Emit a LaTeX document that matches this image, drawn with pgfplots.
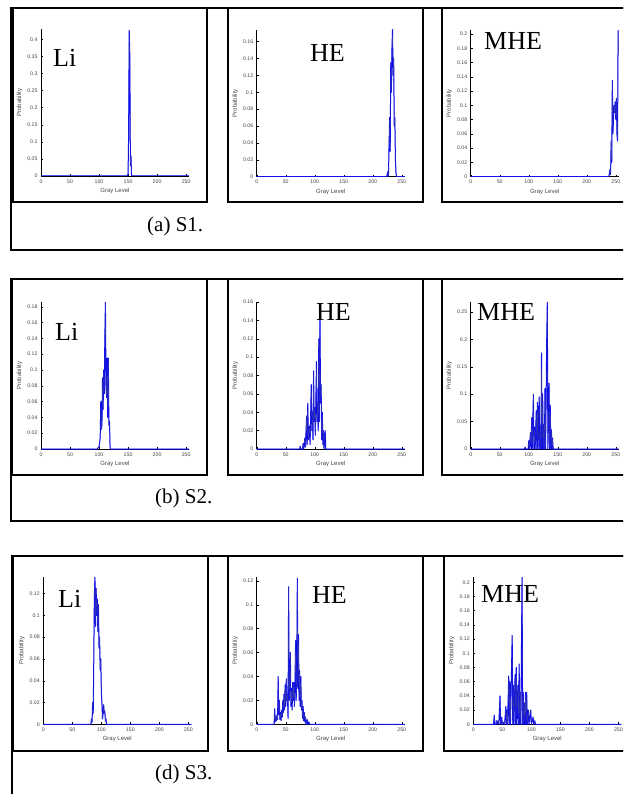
\documentclass[border=0pt]{standalone}
\usepackage{fontspec}
\setmainfont{Liberation Serif}
\newfontfamily\sansf{Liberation Sans}
\usepackage{pgfplots}
\pgfplotsset{compat=1.18}
\definecolor{histlight}{RGB}{155,155,230}
\definecolor{histdark}{RGB}{55,55,175}
\definecolor{ticktxt}{RGB}{70,70,70}
\newcommand\tickf{\sansf\fontsize{5.2}{6}\selectfont}
\newcommand\labf{\sansf\fontsize{6}{7}\selectfont}
\newcommand\bigf{\fontsize{26}{30}\selectfont}
\newcommand\capf{\fontsize{21}{24}\selectfont}
\pgfplotsset{
  hist/.style={
    scale only axis, width=148pt, height=147pt,
    anchor=south west,
    axis x line*=bottom, axis y line*=left,
    axis line style={black, line width=0.5pt},
    xmin=0, xmax=255, ymin=0,
    xtick={0,50,100,150,200,250},
    tick align=inside, major tick length=2pt,
    tick style={black, line width=0.4pt},
    tick label style={font=\tickf, text=ticktxt},
    /pgf/number format/assume math mode=true,
    scaled y ticks=false,
    yticklabel style={/pgf/number format/fixed, /pgf/number format/precision=2},
    xlabel={Gray Level}, ylabel={Probability},
    xlabel style={font=\labf, text=ticktxt, at={(axis description cs:0.5,0)}, anchor=north, yshift=-12pt, inner sep=0pt},
    ylabel style={font=\labf, text=ticktxt, at={(axis description cs:-0.125,0.5)}, anchor=south, inner sep=0pt},
    every axis plot/.append style={draw=histlight, line width=1pt, line join=round, no marks,
      postaction={draw=histdark, line width=0.3pt}},
  }
}
\begin{document}
\begin{tikzpicture}
\useasboundingbox (0,0) rectangle (623pt,-794pt);
\clip (0,0) rectangle (623pt,-794pt);
\fill[white] (0,0) rectangle (623pt,-794pt);
% ---------- frames row 1
\draw[line width=2pt] (11pt,-8pt) rectangle (640pt,-250pt);
\draw[line width=2pt] (13pt,-8pt) rectangle (207pt,-202pt);
\draw[line width=2pt] (228pt,-8pt) rectangle (423pt,-202pt);
\draw[line width=2pt] (442pt,-8pt) rectangle (650pt,-202pt);
\node[font=\capf, anchor=west, inner sep=0pt] at (147pt,-226pt) {(a) S1.};
% ---------- frames row 2
\draw[line width=2pt] (11pt,-279pt) rectangle (640pt,-521pt);
\draw[line width=2pt] (12pt,-279pt) rectangle (207pt,-475pt);
\draw[line width=2pt] (228pt,-279pt) rectangle (423pt,-475pt);
\draw[line width=2pt] (442pt,-279pt) rectangle (650pt,-475pt);
\node[font=\capf, anchor=west, inner sep=0pt] at (155pt,-498pt) {(b) S2.};
% ---------- frames row 3
\draw[line width=2pt] (12pt,-556pt) rectangle (640pt,-820pt);
\draw[line width=2pt] (13pt,-556pt) rectangle (208pt,-751pt);
\draw[line width=2pt] (228pt,-556pt) rectangle (423pt,-751pt);
\draw[line width=2pt] (444pt,-556pt) rectangle (650pt,-751pt);
\node[font=\capf, anchor=west, inner sep=0pt] at (155pt,-774pt) {(d) S3.};

% ================= Row 1
\begin{axis}[hist, at={(41pt,-176pt)}, ymax=0.43,
  ytick={0,0.05,0.1,0.15,0.2,0.25,0.3,0.35,0.4}]
\addplot coordinates {(0,0)(148,0)(150,0.005)(151,0.125)(152,0.426)(153,0.355)(154,0.03)(155,0.06)(156,0)(255,0)};
\end{axis}
\begin{axis}[hist, at={(256.7pt,-176.7pt)}, ymax=0.174,
  ytick={0,0.02,0.04,0.06,0.08,0.1,0.12,0.14,0.16}]
\addplot coordinates {(0,0)(224,0)(226,0.006)(227,0)(229,0.07)(230,0.03)(231,0.135)(232,0.1)(233,0.15)(234,0.174)(235,0.12)(236,0.14)(237,0.06)(238,0.07)(239,0.02)(240,0.005)(241,0)(255,0)};
\end{axis}
\begin{axis}[hist, at={(470.7pt,-176.7pt)}, ymax=0.206,
  ytick={0,0.02,0.04,0.06,0.08,0.1,0.12,0.14,0.16,0.18,0.2}]
\addplot coordinates {(0,0)(238,0)(240,0.01)(241,0.003)(242,0.05)(243,0.02)(244,0.135)(245,0.06)(246,0.08)(247,0.1)(248,0.09)(249,0.105)(250,0.08)(251,0.11)(252,0.06)(253,0.05)(254,0.205)(255,0.17)};
\end{axis}

% ================= Row 2
\begin{axis}[hist, at={(41pt,-449pt)}, ymax=0.186,
  ytick={0,0.02,0.04,0.06,0.08,0.1,0.12,0.14,0.16,0.18}]
\addplot coordinates {(0,0)(97,0)(100,0.003)(101,0.008)(102,0.015)(103,0.06)(104,0.025)(105,0.03)(106,0.09)(107,0.05)(108,0.1)(109,0.07)(110,0.14)(111,0.186)(112,0.08)(113,0.065)(114,0.115)(115,0.04)(116,0.115)(117,0.03)(118,0.035)(119,0.002)(120,0)(255,0)};
\end{axis}
\begin{axis}[hist, at={(256.7pt,-449pt)}, ymax=0.16,
  ytick={0,0.02,0.04,0.06,0.08,0.1,0.12,0.14,0.16}]
\addplot coordinates {(0,0)(74,0)(75,0.003)(76,0)(79,0)(80,0.006)(81,0)(83,0.012)(84,0.002)(86,0.036)(87,0.005)(88,0.05)(89,0.01)(91,0.025)(92,0.005)(94,0.07)(95,0.02)(96,0.04)(97,0.01)(98,0.085)(99,0.03)(100,0.045)(101,0.015)(103,0.095)(104,0.03)(105,0.05)(106,0.02)(107,0.12)(108,0.03)(109,0.145)(110,0.05)(111,0.07)(112,0.01)(113,0.04)(114,0.005)(115,0.02)(116,0)(118,0.02)(119,0)(255,0)};
\end{axis}
\begin{axis}[hist, at={(470.7pt,-449pt)}, ymax=0.268,
  ytick={0,0.05,0.1,0.15,0.2,0.25}]
\addplot coordinates {(0,0)(92,0)(94,0.003)(95,0)(99,0)(100,0.015)(101,0)(103,0.03)(104,0)(105,0.057)(106,0)(108,0.1)(109,0)(110,0.04)(111,0)(113,0.07)(114,0)(115,0.085)(116,0)(118,0.095)(119,0)(120,0.04)(121,0)(122,0.175)(123,0)(124,0.1)(125,0)(126,0.045)(127,0)(128,0.11)(129,0)(131,0.2)(132,0.268)(133,0)(135,0.12)(136,0)(137,0.08)(138,0)(139,0.035)(140,0)(141,0.02)(142,0)(255,0)};
\end{axis}

% ================= Row 3
\begin{axis}[hist, at={(43.3pt,-724.3pt)}, ymax=0.135,
  ytick={0,0.02,0.04,0.06,0.08,0.1,0.12}]
\addplot coordinates {(0,0)(82,0)(83,0.005)(84,0.002)(85,0.02)(86,0.01)(87,0.06)(88,0.12)(89,0.135)(90,0.09)(91,0.125)(92,0.1)(93,0.115)(94,0.085)(95,0.11)(96,0.07)(97,0.08)(98,0.05)(99,0.06)(100,0.03)(101,0.02)(102,0.005)(103,0.01)(104,0.018)(105,0.01)(106,0.012)(107,0.003)(108,0.005)(109,0)(255,0)};
\end{axis}
\begin{axis}[hist, at={(256.7pt,-724.3pt)}, ymax=0.123,
  ytick={0,0.02,0.04,0.06,0.08,0.1,0.12}]
\addplot coordinates {(0,0)(30,0)(31,0.013)(32,0.002)(33,0.006)(34,0.003)(35,0.008)(36,0.004)(37,0.04)(38,0.008)(39,0.02)(40,0.004)(41,0.01)(42,0.003)(43,0.012)(44,0.006)(45,0.02)(46,0.01)(47,0.025)(48,0.012)(49,0.033)(50,0.015)(51,0.038)(52,0.02)(53,0.025)(54,0.005)(55,0.115)(56,0.02)(57,0.035)(58,0.06)(59,0.015)(60,0.03)(61,0.012)(62,0.035)(63,0.02)(64,0.035)(65,0.015)(66,0.035)(67,0.07)(68,0.02)(69,0.04)(70,0.122)(71,0.03)(72,0.075)(73,0.02)(74,0.045)(75,0.015)(76,0.04)(77,0.012)(78,0.02)(79,0.005)(80,0.015)(81,0.003)(82,0.01)(83,0.002)(84,0.006)(85,0)(87,0.004)(88,0)(90,0.002)(91,0)(255,0)};
\end{axis}
\begin{axis}[hist, at={(473.3pt,-724.3pt)}, ymax=0.207,
  ytick={0,0.02,0.04,0.06,0.08,0.1,0.12,0.14,0.16,0.18,0.2}]
\addplot coordinates {(0,0)(35,0)(36,0.013)(37,0)(39,0)(40,0.005)(41,0)(43,0.005)(44,0)(46,0.04)(47,0)(49,0.01)(50,0)(53,0.003)(54,0)(56,0.025)(57,0)(58,0.02)(59,0)(61,0.068)(62,0)(63,0.06)(64,0)(67,0.125)(68,0)(69,0.055)(70,0)(72,0.07)(73,0)(74,0.08)(75,0)(77,0.055)(78,0)(79,0.085)(80,0)(81,0.045)(82,0)(83,0.11)(84,0.207)(85,0)(86,0.045)(87,0)(88,0.03)(89,0)(90,0.045)(91,0)(92,0.045)(93,0)(95,0.02)(96,0)(99,0.02)(100,0)(103,0.01)(104,0)(106,0.005)(107,0)(255,0)};
\end{axis}

% ---------- big labels
\node[font=\bigf, anchor=base west, inner sep=0pt] at (53pt,-67pt) {Li};
\node[font=\bigf, anchor=base west, inner sep=0pt] at (310pt,-62pt) {HE};
\node[font=\bigf, anchor=base west, inner sep=0pt] at (484pt,-50pt) {MHE};
\node[font=\bigf, anchor=base west, inner sep=0pt] at (55pt,-340pt) {Li};
\node[font=\bigf, anchor=base west, inner sep=0pt] at (316pt,-320pt) {HE};
\node[font=\bigf, anchor=base west, inner sep=0pt] at (477pt,-320pt) {MHE};
\node[font=\bigf, anchor=base west, inner sep=0pt] at (58pt,-607pt) {Li};
\node[font=\bigf, anchor=base west, inner sep=0pt] at (312pt,-603pt) {HE};
\node[font=\bigf, anchor=base west, inner sep=0pt] at (481pt,-602pt) {MHE};
\end{tikzpicture}
\end{document}
